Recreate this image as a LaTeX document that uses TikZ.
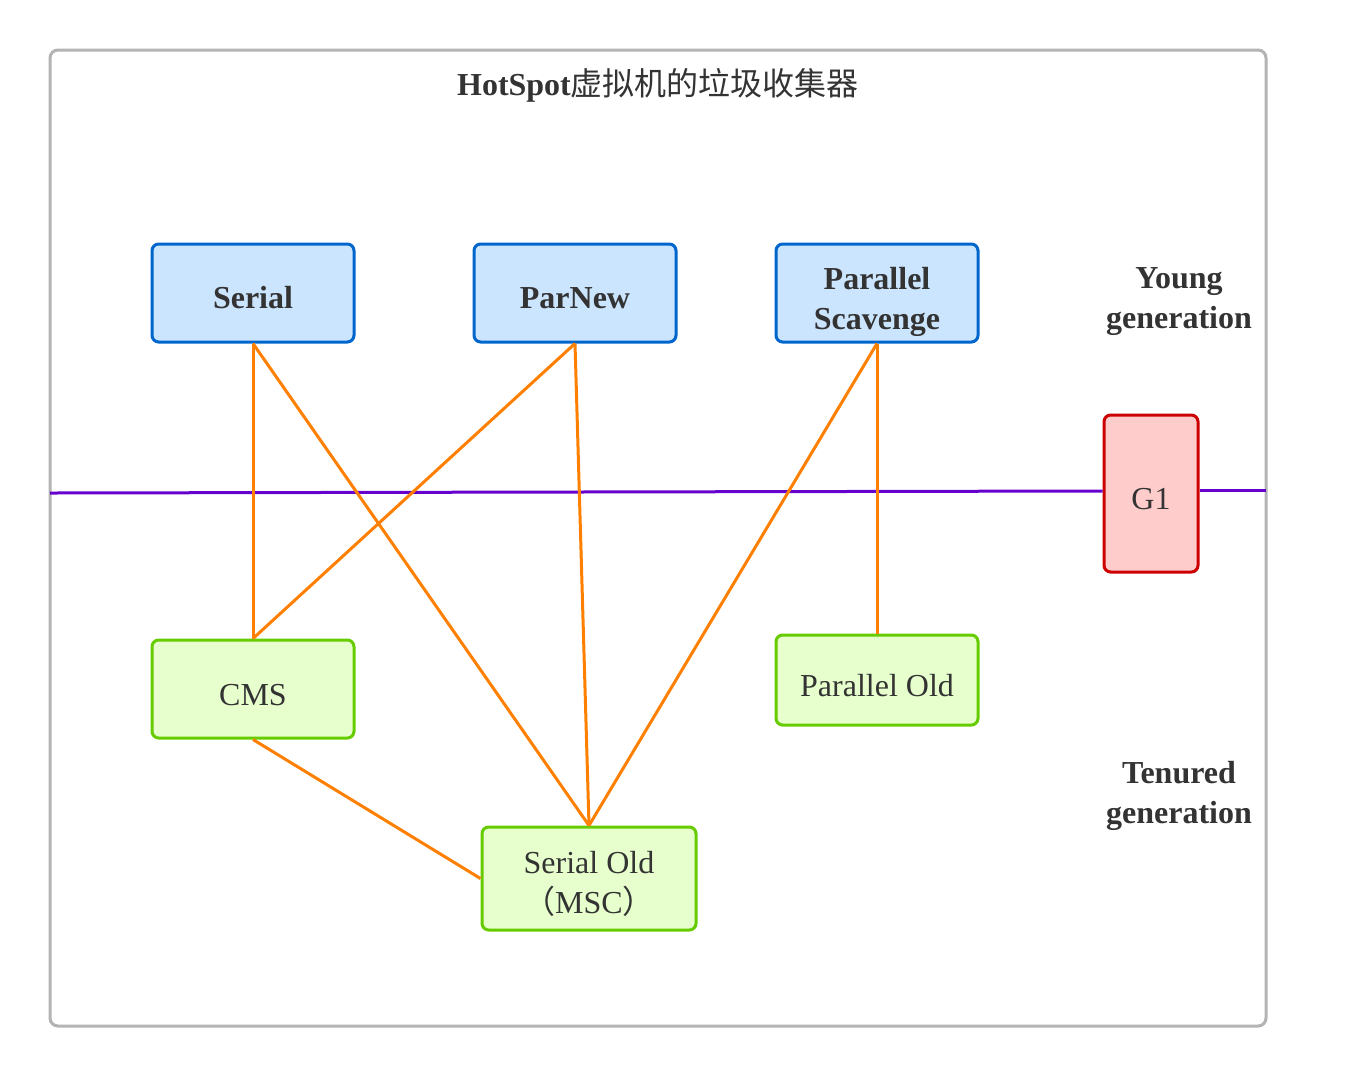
\documentclass[tikz,border=0pt]{standalone}
\usepackage{fontspec}
\setmainfont{Liberation Serif}
\newfontfamily\cjk{Noto Sans CJK SC}
\definecolor{bluefill}{HTML}{CCE5FF}
\definecolor{blueline}{HTML}{0066CC}
\definecolor{greenfill}{HTML}{E6FFCC}
\definecolor{greenline}{HTML}{66CC00}
\definecolor{redfill}{HTML}{FFCCCC}
\definecolor{redline}{HTML}{CC0000}
\definecolor{txt}{HTML}{333333}
\definecolor{frame}{HTML}{B3B3B3}
\definecolor{conn}{HTML}{FF8000}
\definecolor{purp}{HTML}{6600CC}
\begin{document}
\begin{tikzpicture}[x=0.75pt,y=-0.75pt,
  box/.style={draw, line width=2.25pt, rounded corners=5pt, inner sep=0pt},
  young/.style={box, fill=bluefill, draw=blueline},
  old/.style={box, fill=greenfill, draw=greenline},
  conline/.style={draw=conn, line width=2.25pt},
  lbl/.style={text=txt, align=center, font=\fontsize{24pt}{30pt}\selectfont\bfseries},
  plain/.style={text=txt, align=center, font=\fontsize{24pt}{30pt}\selectfont},
  btxt/.style={label={[lbl, yshift=-3.75pt]center:#1}},
  btxttwo/.style={label={[lbl, yshift=-6.75pt]center:#1}},
  ptxt/.style={label={[plain, yshift=-4.2pt]center:#1}}]
\useasboundingbox (0,0) rectangle (1366,1076);
\draw[frame, line width=2.25pt, rounded corners=6pt] (50,50) rectangle (1266,1026);
\node[lbl] (title) at (658,85.5) {HotSpot{\cjk\mdseries 虚拟机的垃圾收集器}};
\node[lbl] (younglbl) at (1179,302) {Young\\generation};
\node[lbl] (tenlbl) at (1179,796) {Tenured\\generation};

\coordinate (pl) at (50,493);
\coordinate (pr) at (1266,490);
\node[box, fill=redfill, draw=redline, minimum width=70.5pt, minimum height=117.75pt, ptxt={G1}] (g1) at (1151,493.5) {};
\draw[purp, line width=2.25pt] (pl) -- (g1.west |- 0,491);
\draw[purp, line width=2.25pt] (g1.east |- pr) -- (pr);

\node[young, minimum width=151.5pt, minimum height=73.5pt, btxt={Serial}] (serial) at (253,293) {};
\node[young, minimum width=151.5pt, minimum height=73.5pt, btxt={ParNew}] (parnew) at (575,293) {};
\node[young, minimum width=151.5pt, minimum height=73.5pt, btxttwo={Parallel\\Scavenge}] (ps) at (877,293) {};
\node[old, minimum width=151.5pt, minimum height=73.5pt, ptxt={CMS}] (cms) at (253,689) {};
\node[old, minimum width=151.5pt, minimum height=67.5pt, ptxt={Parallel Old}] (po) at (877,680) {};
\node[old, minimum width=160.5pt, minimum height=77.25pt, ptxt={Serial Old\\{\cjk （}MSC{\cjk ）}}] (so) at (589,878.5) {};

\draw[conline] (serial.south) -- (cms.north);
\draw[conline] (serial.south) -- (so.north);
\draw[conline] (parnew.south) -- (cms.north);
\draw[conline] (parnew.south) -- (so.north);
\draw[conline] (ps.south) -- (so.north);
\draw[conline] (ps.south) -- (po.north);
\draw[conline] (cms.south) -- (so.west);
\end{tikzpicture}
\end{document}
